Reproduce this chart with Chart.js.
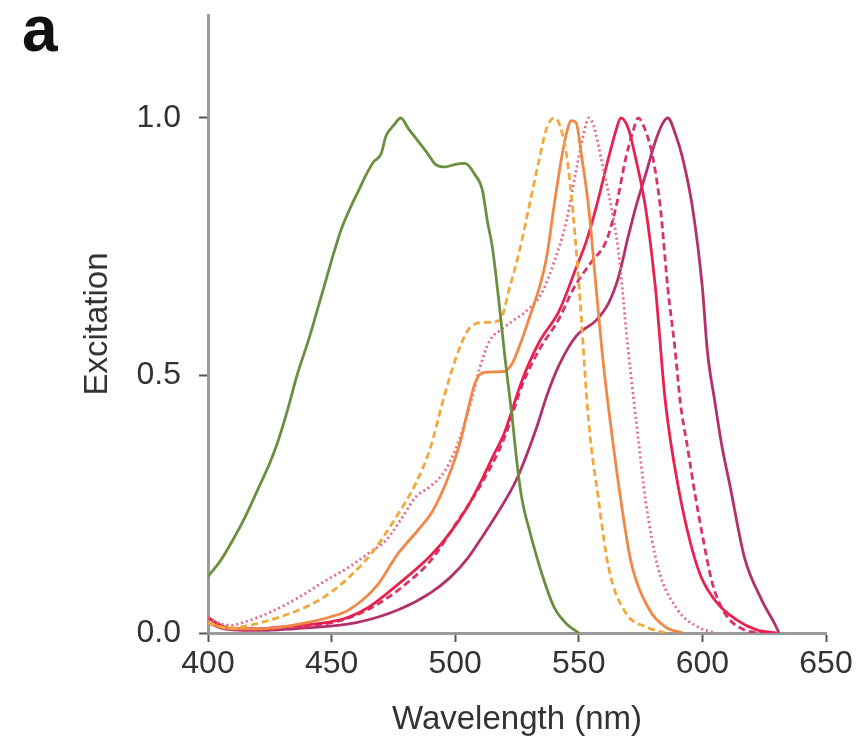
<!DOCTYPE html>
<html>
<head>
<meta charset="utf-8">
<script src="https://cdn.jsdelivr.net/npm/chart.js@4.4.1/dist/chart.umd.min.js"></script>
<style>
  body { margin: 0; background: #fff; }
  #wrap { position: relative; width: 868px; height: 755px; }
  #panel { position: absolute; left: 22px; top: -8px; font: bold 64px "Liberation Sans", Arial, sans-serif; color: #111; }
</style>
</head>
<body>
<div id="wrap">
  <canvas id="mycanvas"></canvas>
  <div id="panel">a</div>
</div>
<script>
// excitation spectra
var seriesNames = ['mHoneydew', 'mBanana', 'mOrange', 'tdTomato', 'mTangerine', 'mStrawberry', 'mCherry'];

var honeydewNm = [400,405,410,415,420,425,428,432,436,441,445,448,451,454,458,461,464,467,470,472,475,478,481,485,489,492,496,500,504,508,511,513,515,518,520,523,525,527,530,535,540,545,550];
var honeydewEx = [0.11,0.14,0.18,0.225,0.277,0.33,0.368,0.43,0.50,0.574,0.64,0.69,0.74,0.785,0.83,0.86,0.89,0.915,0.93,0.965,0.985,1.0,0.98,0.955,0.93,0.91,0.905,0.91,0.912,0.89,0.86,0.80,0.75,0.63,0.54,0.42,0.33,0.26,0.20,0.116,0.05,0.018,0.0];

var bananaNm = [400,405,410,417,427,437,447,457,467,477,484,490,495,500,505,508,512,518,522,526,530,534,537,540,542,545,547,550,554,558,562,569,577,585];
var bananaEx = [0.02,0.012,0.01,0.015,0.028,0.045,0.07,0.108,0.16,0.232,0.29,0.36,0.45,0.53,0.587,0.60,0.603,0.607,0.67,0.742,0.83,0.92,0.98,1.0,0.99,0.93,0.85,0.68,0.41,0.258,0.128,0.039,0.012,0.0];

var orangeNm = [400,405,410,420,430,440,450,457,468,477,485,491,497,502,505,508,511,516,520,523,527,530,534,537,540,543,545,547,549,551,554,557,560,563,567,571,578,585,592];
var orangeEx = [0.02,0.012,0.008,0.008,0.012,0.02,0.032,0.045,0.09,0.155,0.2,0.238,0.3,0.37,0.43,0.485,0.505,0.507,0.508,0.523,0.57,0.612,0.67,0.73,0.83,0.922,0.97,0.995,0.99,0.93,0.826,0.67,0.52,0.40,0.258,0.141,0.05,0.012,0.0];

var tomatoNm = [400,405,410,414,425,437,447,457,465,472,478,484,490,496,502,507,510,514,518,523,529,535,540,545,549,552,554,556,559,563,566,570,574,577,582,590,598,605];
var tomatoEx = [0.03,0.018,0.015,0.02,0.04,0.07,0.10,0.128,0.155,0.18,0.22,0.264,0.285,0.316,0.38,0.46,0.516,0.568,0.587,0.605,0.626,0.66,0.72,0.80,0.9,0.97,1.0,0.985,0.922,0.83,0.742,0.548,0.38,0.258,0.128,0.045,0.012,0.0];

var tangerineNm = [400,405,410,420,430,440,450,457,465,477,490,498,505,510,515,520,527,534,542,549,553,557,562,565,567,570,573,577,581,585,590,598,605,614,622,630];
var tangerineEx = [0.03,0.015,0.008,0.008,0.012,0.016,0.022,0.031,0.05,0.095,0.15,0.195,0.245,0.29,0.34,0.39,0.49,0.565,0.625,0.71,0.76,0.826,0.922,0.975,1.0,0.98,0.922,0.826,0.67,0.45,0.29,0.128,0.064,0.025,0.006,0.0];

var strawberryNm = [400,405,410,420,430,440,450,460,470,480,490,500,510,520,527,534,542,548,555,561,565,569,572,574,577,580,583,586,589,591,594,597,600,604,609,617,625];
var strawberryEx = [0.03,0.015,0.008,0.008,0.01,0.014,0.02,0.035,0.06,0.095,0.14,0.21,0.285,0.38,0.48,0.55,0.61,0.67,0.72,0.76,0.826,0.922,0.975,1.0,0.975,0.922,0.826,0.67,0.548,0.45,0.36,0.27,0.19,0.097,0.039,0.006,0.0];

var cherryNm = [400,405,410,420,440,460,477,490,498,505,510,517,525,533,537,542,549,557,562,566,570,573,577,581,584,586,589,592,596,600,602,605,608,611,617,624,629,631];
var cherryEx = [0.02,0.01,0.006,0.005,0.01,0.02,0.045,0.078,0.108,0.145,0.18,0.232,0.30,0.40,0.46,0.52,0.577,0.607,0.64,0.69,0.77,0.826,0.89,0.955,0.99,1.0,0.97,0.922,0.826,0.67,0.548,0.45,0.36,0.29,0.147,0.064,0.02,0.0];

var xTicks = [400, 450, 500, 550, 600, 650];
var yTicks = [0, 0.5, 1.0];

var colors = ['#6b8f3e', '#f2a93b', '#f08848', '#e46a85', '#e8224f', '#d6336e', '#b4306a'];
var dashes = [[], [7, 4], [], [2, 3], [], [7, 4], []];

var allNm = [honeydewNm, bananaNm, orangeNm, tomatoNm, tangerineNm, strawberryNm, cherryNm];
var allEx = [honeydewEx, bananaEx, orangeEx, tomatoEx, tangerineEx, strawberryEx, cherryEx];

function pts(nm, ex) {
  var out = [];
  for (var i in nm) {
    out.push({x: nm[i], y: ex[i]});
  }
  return out;
}

var datasets = [];
for (var k = 0; k < seriesNames.length; k++) {
  datasets.push({
    label: seriesNames[k],
    data: pts(allNm[k], allEx[k]),
    borderColor: colors[k],
    borderWidth: 2.8,
    borderDash: dashes[k],
    pointRadius: 0,
    fill: false,
    cubicInterpolationMode: 'monotone'
  });
}

var tickFont = {family: '"Liberation Sans", Arial, sans-serif', size: 32};
var titleFont = {family: '"Liberation Sans", Arial, sans-serif', size: 33};

var ctx = document.getElementById('mycanvas');
new Chart(ctx, {
  type: 'line',
  data: {datasets: datasets},
  options: {
    responsive: true,
    maintainAspectRatio: false,
    animation: false,
    layout: {padding: {left: 0, top: 15, right: 42, bottom: 0}},
    plugins: {legend: {display: false}, tooltip: {enabled: false}},
    scales: {
      x: {
        type: 'linear',
        min: 400,
        max: 650,
        afterBuildTicks: function (s) { s.ticks = xTicks.map(function (v) { return {value: v}; }); },
        afterFit: function (s) { s.height = 122; },
        border: {color: '#9a9a9a', width: 3},
        grid: {drawOnChartArea: false, drawTicks: true, tickLength: 9, tickColor: '#555', tickWidth: 2},
        ticks: {color: '#333', font: tickFont, padding: 3, maxRotation: 0},
        title: {display: true, text: 'Wavelength (nm)', color: '#333', font: titleFont, padding: {top: 0, bottom: 15}}
      },
      y: {
        min: 0,
        max: 1.2,
        afterBuildTicks: function (s) { s.ticks = yTicks.map(function (v) { return {value: v}; }); },
        afterFit: function (s) { s.width = 208; s.paddingTop = 0; s.paddingBottom = 0; },
        border: {color: '#9a9a9a', width: 3},
        grid: {drawOnChartArea: false, drawTicks: true, tickLength: 9, tickColor: '#555', tickWidth: 2},
        ticks: {color: '#333', font: tickFont, padding: 18, callback: function (v) { return v.toFixed(1); }},
        title: {display: true, text: 'Excitation', color: '#333', font: titleFont, padding: {top: 78, bottom: 0}}
      }
    }
  }
});
</script>
</body>
</html>
